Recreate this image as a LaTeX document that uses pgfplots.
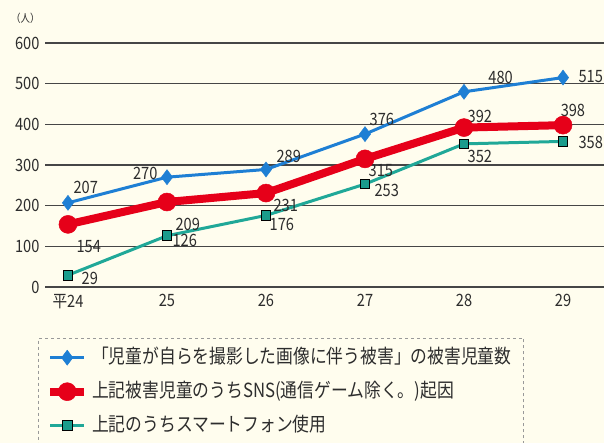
\documentclass[border=0pt]{standalone}
\usepackage{pgfplots}
\pgfplotsset{compat=1.18}
\usepackage{fontspec}
\setmainfont{Noto Sans CJK JP}[FakeStretch=0.86]
\definecolor{bgc}{RGB}{255,253,238}
\definecolor{cblue}{RGB}{30,127,212}
\definecolor{cred}{RGB}{230,0,25}
\definecolor{cteal}{RGB}{32,168,152}
\definecolor{cteald}{RGB}{26,156,140}
\definecolor{gridc}{RGB}{70,70,70}
\definecolor{txt}{RGB}{45,45,45}
\begin{document}
\begin{tikzpicture}
\useasboundingbox (0,0) rectangle (604pt,443pt);
\clip (0,0) rectangle (604pt,443pt);
\fill[bgc] (0,0) rectangle (604pt,443pt);
\begin{axis}[
  at={(45pt,156pt)}, anchor=south west,
  scale only axis, width=559pt, height=244pt,
  xmin=-0.232, xmax=5.414, ymin=0, ymax=600,
  clip=false,
  axis line style={draw=none},
  major tick style={draw=none},
  ytick={0,100,200,300,400,500,600},
  ymajorgrids,
  grid style={line width=1.6pt, color=gridc},
  xtick={0,1,2,3,4,5},
  xticklabels={平24,25,26,27,28,29},
  ticklabel style={font=\fontsize{17}{20}\selectfont, text=txt},
  yticklabel style={xshift=-2pt},
  xticklabel style={yshift=-4pt},
  /pgf/number format/assume math mode=true,
  legend style={at={(-0.0125,-0.209)}, anchor=north west,
    draw=gray!80, dashed, fill=none, inner sep=8pt,
    font=\fontsize{19.5}{22}\selectfont, text=txt,
    row sep=11pt,
    nodes={text height=15pt, text depth=4pt, inner ysep=2pt, inner xsep=4pt, solid}},
  legend cell align=left,
  legend image code/.code={\draw[mark repeat=2,mark phase=2,#1] plot coordinates {(0pt,0pt) (17pt,0pt) (34pt,0pt)};},
]
\addplot[cblue, line width=3pt, mark=diamond*, mark size=7.5pt, mark options={solid, fill=cblue, draw=cblue, line width=0.5pt}]
  coordinates {(0,207) (1,270) (2,289) (3,376) (4,480) (5,515)};
\addlegendentry{「児童が自らを撮影した画像に伴う被害」の被害児童数}
\addplot[cred, line width=8pt, mark=*, mark size=9pt, mark options={solid, fill=cred, draw=cred, line width=0.5pt}]
  coordinates {(0,154) (1,209) (2,231) (3,315) (4,392) (5,398)};
\addlegendentry{上記被害児童のうちSNS(通信ゲーム除く。)起因}
\addplot[cteal, line width=3pt, mark=square*, mark size=4.8pt, mark options={solid, fill=cteald, draw=black, line width=1pt}]
  coordinates {(0,29) (1,126) (2,176) (3,253) (4,352) (5,358)};
\addlegendentry{上記のうちスマートフォン使用}
\tikzset{lab/.style={font=\fontsize{17}{20}\selectfont, text=txt, inner sep=1pt}}
% blue labels
\node[lab] at (axis cs:0.18,245) {207};
\node[lab] at (axis cs:0.78,280) {270};
\node[lab] at (axis cs:2.23,322) {289};
\node[lab] at (axis cs:3.17,411) {376};
\node[lab] at (axis cs:4.37,516) {480};
\node[lab] at (axis cs:5.28,518) {515};
% red labels
\node[lab] at (axis cs:0.21,99) {154};
\node[lab] at (axis cs:1.21,153) {209};
\node[lab] at (axis cs:2.2,200) {231};
\node[lab] at (axis cs:3.16,286) {315};
\node[lab] at (axis cs:4.16,420) {392};
\node[lab] at (axis cs:5.1,433) {398};
% teal labels
\node[lab] at (axis cs:0.22,20) {29};
\node[lab] at (axis cs:1.18,114) {126};
\node[lab] at (axis cs:2.16,155) {176};
\node[lab] at (axis cs:3.22,238) {253};
\node[lab] at (axis cs:4.16,322) {352};
\node[lab] at (axis cs:5.28,355) {358};
\node[font=\fontsize{11}{13}\selectfont, text=txt, inner sep=0pt] at (axis cs:-0.43,660) {（人）};
\end{axis}
\end{tikzpicture}
\end{document}
